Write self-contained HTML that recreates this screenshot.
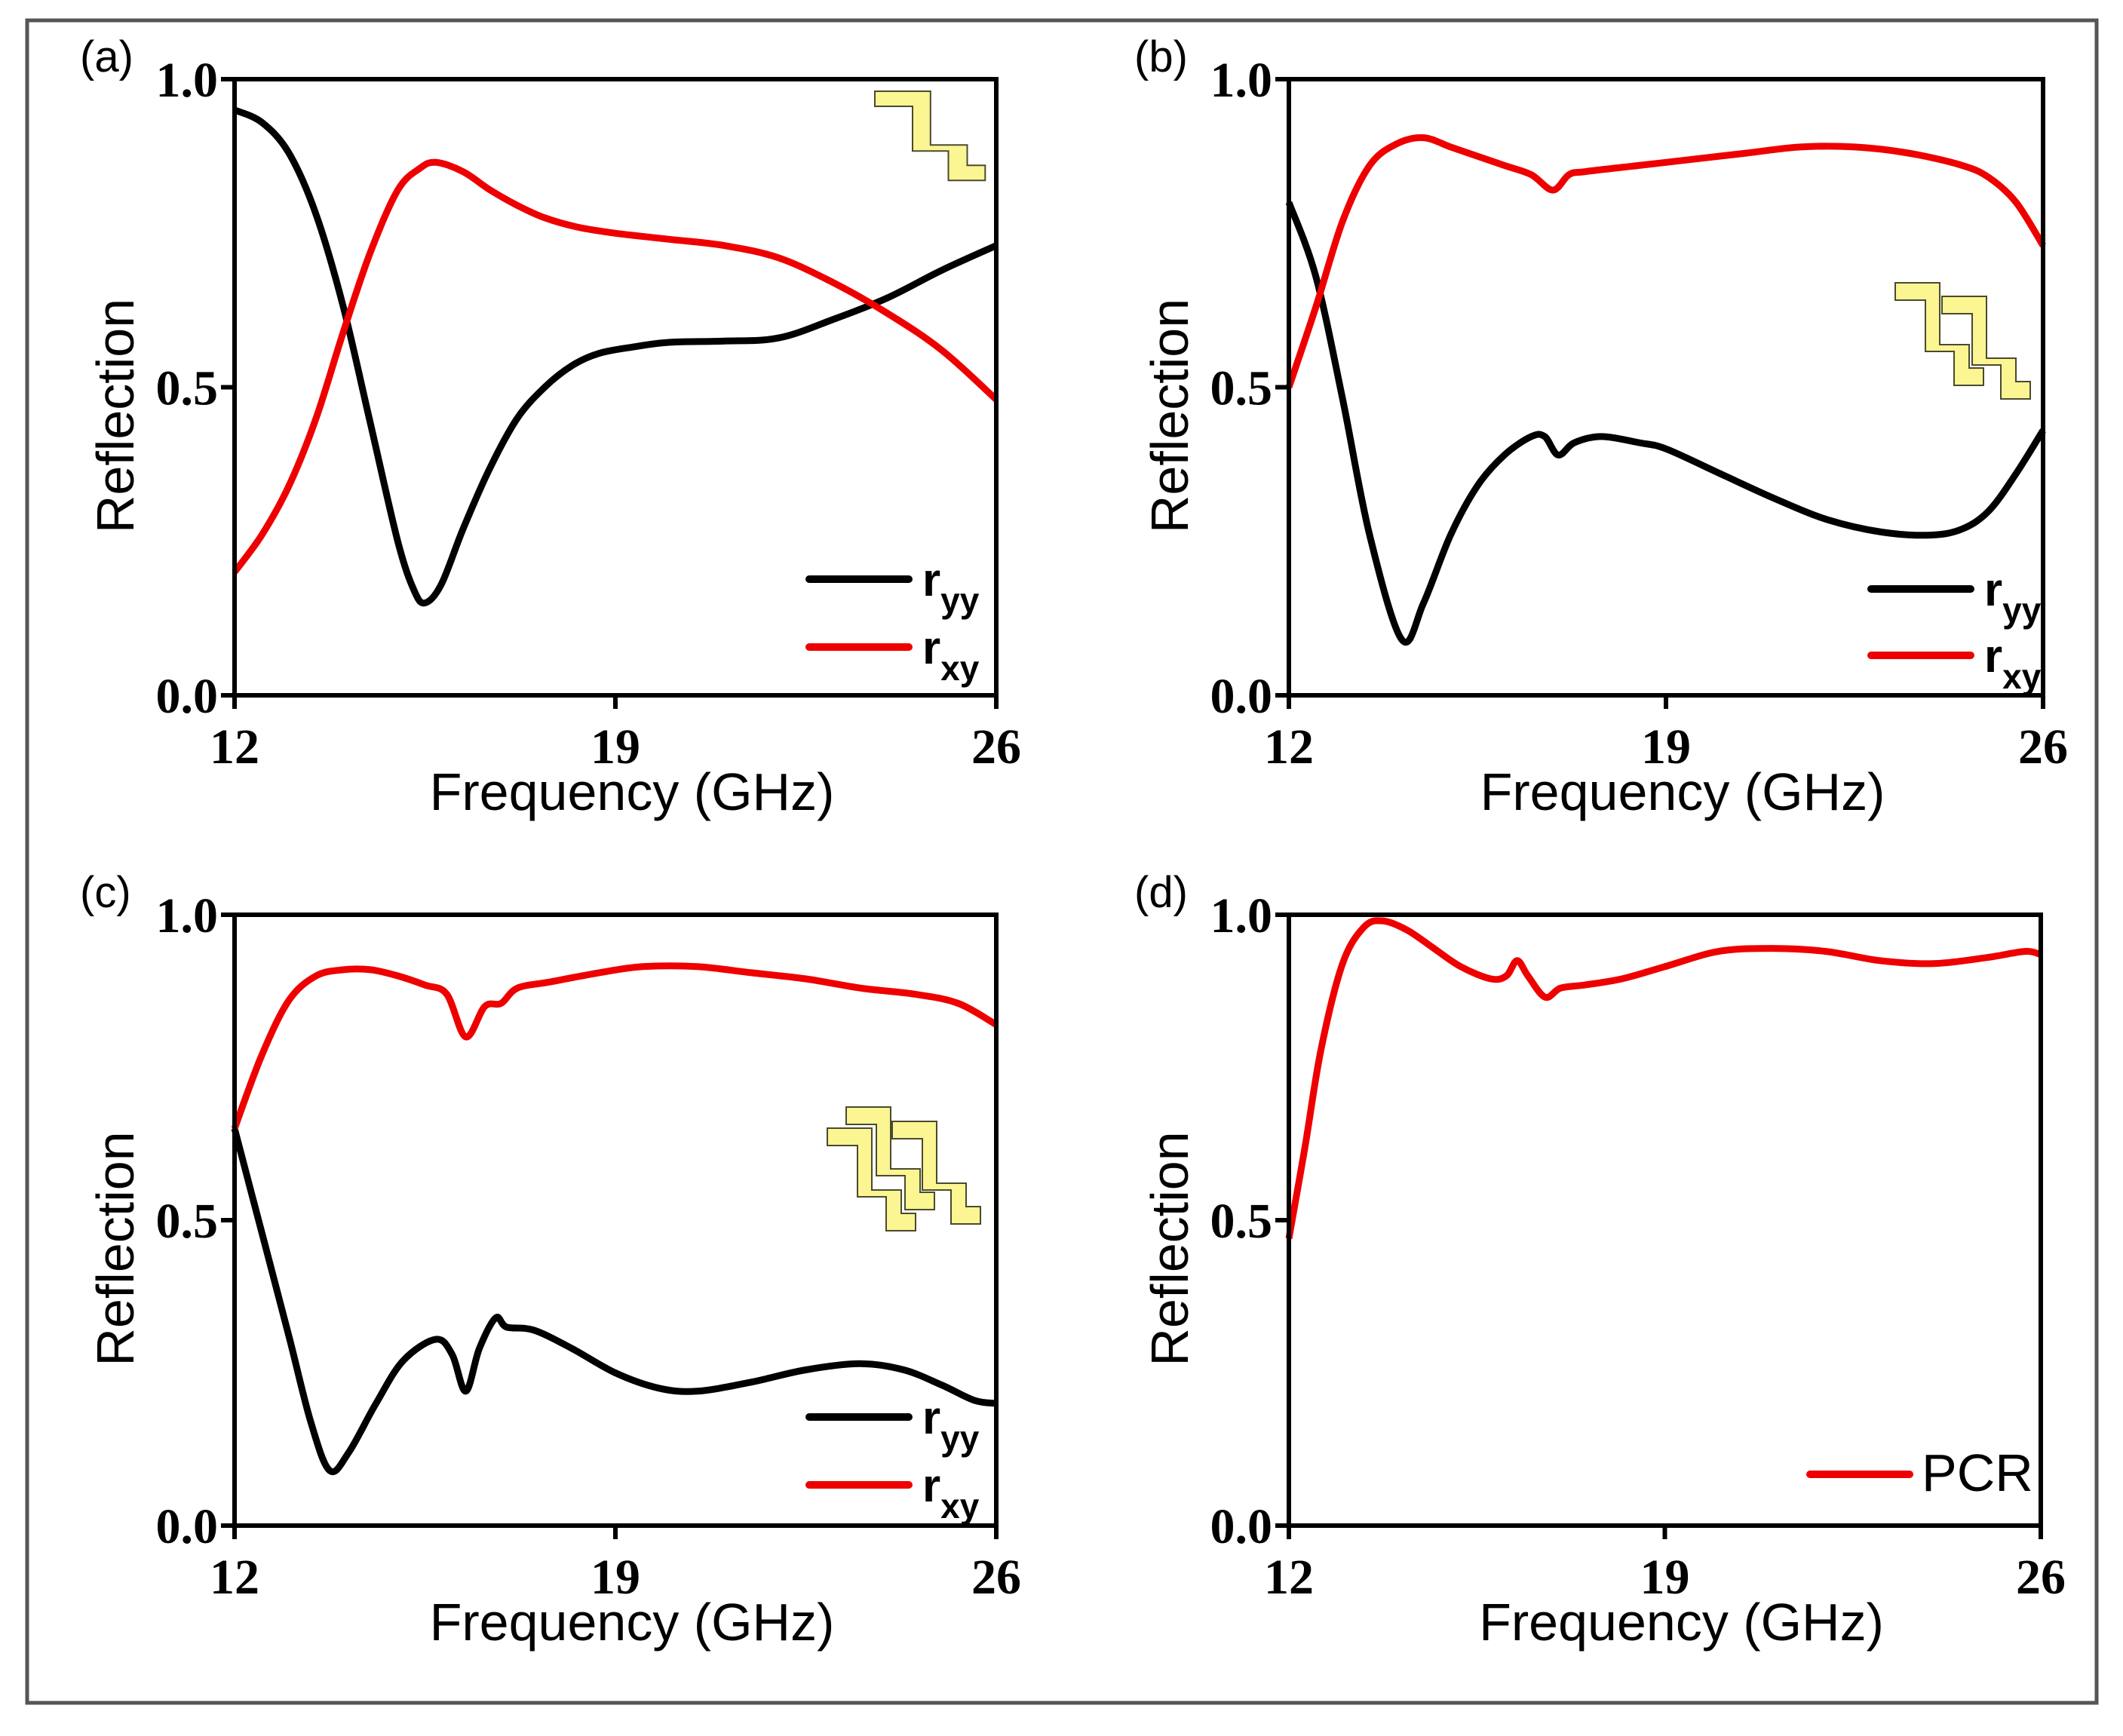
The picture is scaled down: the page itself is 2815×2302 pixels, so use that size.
<!DOCTYPE html>
<html><head><meta charset="utf-8"><style>
html,body{margin:0;padding:0;background:#fff}
svg{display:block}
.tick{font-family:"Liberation Serif",serif;font-weight:bold;font-size:66px}
.title{font-family:"Liberation Sans",sans-serif;font-size:70px}
.plab{font-family:"Liberation Sans",sans-serif;font-size:58px}
.leg{font-family:"Liberation Sans",sans-serif;font-weight:bold;font-size:62px}
</style></head><body>
<svg id="fig" width="2815" height="2302" viewBox="0 0 2815 2302" xmlns="http://www.w3.org/2000/svg">
<rect x="36" y="27" width="2744" height="2231" fill="none" stroke="#555" stroke-width="5"/>
</svg>
<script>
// ---- data ----
const xTicks = [12, 19, 26];
const yTicks = [0.0, 0.5, 1.0];
const yTickLabels = ["0.0", "0.5", "1.0"];
const panelLabels = ["(a)", "(b)", "(c)", "(d)"];

const aRyyF = [12,12.5,13,13.5,14,14.5,15,15.3,15.5,15.8,16.2,16.7,17.2,17.7,18.2,18.7,19.3,20,21,22,23,24,25,26];
const aRyyV = [0.95,0.93,0.88,0.78,0.63,0.44,0.25,0.17,0.15,0.18,0.27,0.37,0.45,0.50,0.535,0.555,0.565,0.573,0.575,0.58,0.61,0.645,0.69,0.73];
const aRxyF = [12,12.5,13,13.5,14,14.5,15,15.4,15.7,16.2,16.7,17.2,17.7,18.3,19,20,21,22,23,24,25,26];
const aRxyV = [0.20,0.26,0.34,0.45,0.59,0.72,0.82,0.855,0.865,0.85,0.82,0.795,0.775,0.76,0.75,0.74,0.73,0.71,0.67,0.62,0.56,0.48];

const bRyyF = [12,12.5,13,13.5,14.1,14.5,15,15.5,16,16.5,16.75,17,17.3,17.8,18.5,19,20,21,22,23,23.9,24.5,25,25.5,26];
const bRyyV = [0.80,0.68,0.48,0.26,0.09,0.15,0.26,0.34,0.39,0.42,0.42,0.39,0.41,0.42,0.41,0.40,0.36,0.32,0.285,0.265,0.26,0.27,0.30,0.36,0.43];
const bRxyF = [12,12.5,13,13.5,14,14.5,15,15.5,16,16.5,16.9,17.2,17.5,18.5,19.5,20.5,21.5,22.5,23.5,24.5,25,25.5,26];
const bRxyV = [0.50,0.63,0.77,0.86,0.895,0.905,0.89,0.875,0.86,0.845,0.82,0.845,0.85,0.86,0.87,0.88,0.89,0.89,0.88,0.86,0.84,0.80,0.73];

const cRyyF = [12,12.5,13,13.4,13.75,14.1,14.6,15.1,15.7,16.0,16.25,16.5,16.8,17.0,17.5,18.2,19,19.8,20.5,21.5,22.5,23.5,24.3,25,25.6,26];
const cRyyV = [0.65,0.48,0.31,0.17,0.09,0.12,0.20,0.27,0.305,0.28,0.22,0.29,0.34,0.325,0.32,0.29,0.25,0.225,0.22,0.235,0.255,0.265,0.255,0.23,0.205,0.20];
const cRxyF = [12,12.5,13,13.5,14,14.5,15,15.5,15.9,16.25,16.6,16.9,17.2,17.8,18.7,19.5,20.5,21.5,22.5,23.5,24.5,25.3,26];
const cRxyV = [0.65,0.77,0.86,0.90,0.91,0.91,0.90,0.885,0.87,0.80,0.85,0.855,0.88,0.89,0.905,0.915,0.915,0.905,0.895,0.88,0.87,0.855,0.82];

const dPcrF = [12,12.3,12.6,13,13.4,13.75,14.2,14.7,15.2,15.76,16.05,16.25,16.45,16.77,17.06,17.5,18.2,19,20,21,22,23,24,25,25.7,26];
const dPcrV = [0.47,0.62,0.78,0.92,0.98,0.99,0.975,0.945,0.915,0.895,0.90,0.925,0.90,0.865,0.88,0.885,0.895,0.915,0.94,0.945,0.94,0.925,0.92,0.93,0.94,0.935];

const svg = document.getElementById('fig');
const NS = "http://www.w3.org/2000/svg";
function mk(tag, attrs, parent){
  const e = document.createElementNS(NS, tag);
  for (const k in attrs) e.setAttribute(k, attrs[k]);
  (parent||svg).appendChild(e);
  return e;
}
function smoothPath(pts){
  let d = "M" + pts[0][0].toFixed(1) + "," + pts[0][1].toFixed(1);
  for (let i=0;i<pts.length-1;i++){
    const p0 = pts[Math.max(0,i-1)], p1 = pts[i], p2 = pts[i+1], p3 = pts[Math.min(pts.length-1,i+2)];
    const c1x = p1[0] + (p2[0]-p0[0])/6, c1y = p1[1] + (p2[1]-p0[1])/6;
    const c2x = p2[0] - (p3[0]-p1[0])/6, c2y = p2[1] - (p3[1]-p1[1])/6;
    d += " C" + c1x.toFixed(1)+","+c1y.toFixed(1)+" "+c2x.toFixed(1)+","+c2y.toFixed(1)+" "+p2[0].toFixed(1)+","+p2[1].toFixed(1);
  }
  return d;
}
const stairPts = [[0,0],[59,0],[59,82],[98,82],[98,113],[117,113],[117,136],[78,136],[78,91],[40,91],[40,23],[0,23]];
function stair(g, x0, y0, sx, sy){
  const p = mk('polygon', {points: stairPts.map(q => (x0+q[0]*sx).toFixed(1)+","+(y0+q[1]*sy).toFixed(1)).join(" "), fill:"#fbf592", stroke:"#4a4a30", "stroke-width":"2"}, g);
  
  
}

const panels = [
  {L:311, R:1321, T:105, B:922, lab:0, series:[[aRyyF,aRyyV,"#000","r-yy"],[aRxyF,aRxyV,"#ee0000","r-xy"]], legX:1073, legY:[768,858], icons:[[1160,121,1.25,0.87]]},
  {L:1709, R:2709, T:105, B:922, lab:1, series:[[bRyyF,bRyyV,"#000","r-yy"],[bRxyF,bRxyV,"#ee0000","r-xy"]], legX:2481, legY:[781,869], icons:[[2513,375,1,1],[2575,393,1,1]]},
  {L:311, R:1321, T:1213, B:2023, lab:2, series:[[cRyyF,cRyyV,"#000","r-yy"],[cRxyF,cRxyV,"#ee0000","r-xy"]], legX:1073, legY:[1879,1969], icons:[[1097,1496,1,1],[1122,1468,1,1],[1183,1487,1,1]]},
  {L:1709, R:2706, T:1213, B:2023, lab:3, series:[[dPcrF,dPcrV,"#ee0000","pcr"]], legX:2400, legY:[1955], icons:[]}
];

panels.forEach((P, pi) => {
  const g = mk('g', {});
  
  
  const xs = f => P.L + (f - 12) / 14 * (P.R - P.L);
  const ys = v => P.B - v * (P.B - P.T);
  P.icons.forEach(ic => stair(g, ic[0], ic[1], ic[2], ic[3]));
  P.series.forEach(s => {
    const pts = s[0].map((f,i) => [xs(f), ys(s[1][i])]);
    const path = mk('path', {d: smoothPath(pts), fill:"none", stroke:s[2], "stroke-width":"9", "stroke-linejoin":"round"}, g);
    
    
  });
  const fr = mk('rect', {x:P.L, y:P.T, width:P.R-P.L, height:P.B-P.T, fill:"none", stroke:"#000", "stroke-width":"6"}, g);
  
  
  xTicks.forEach(t => {
    const x = xs(t);
    const tk = mk('line', {x1:x, y1:P.B, x2:x, y2:P.B+18, stroke:"#000", "stroke-width":"6"}, g);
    
    
    const tl = mk('text', {x:x, y:P.B+90, "text-anchor":"middle", class:"tick"}, g);
    tl.textContent = String(t);
    
    
  });
  yTicks.forEach((t, i) => {
    const y = ys(t);
    const tk = mk('line', {x1:P.L-18, y1:y, x2:P.L, y2:y, stroke:"#000", "stroke-width":"6"}, g);
    
    
    const tl = mk('text', {x:P.L-22, y:y+23, "text-anchor":"end", class:"tick"}, g);
    tl.textContent = yTickLabels[i];
    
    
  });
  const xt = mk('text', {x:(P.L+P.R)/2+22, y:P.B+152, "text-anchor":"middle", class:"title"}, g);
  xt.textContent = "Frequency (GHz)";
  
  
  const yt = mk('text', {x:0, y:0, "text-anchor":"middle", class:"title", transform:"translate(" + (P.L-134) + "," + ((P.T+P.B)/2+38) + ") rotate(-90)"}, g);
  yt.textContent = "Reflection";
  
  
  const pl = mk('text', {x:P.L-205, y:P.T-10, class:"plab"}, g);
  pl.textContent = panelLabels[P.lab];
  
  
  P.series.forEach((s, i) => {
    const y = P.legY[i];
    const ln = mk('line', {x1:P.legX, y1:y, x2:P.legX+132, y2:y, stroke:s[2], "stroke-width":"10", "stroke-linecap":"round"}, g);
    
    
    let tx;
    if (s[3] === "pcr") {
      tx = mk('text', {x:P.legX+148, y:y+22, class:"title", "font-size":"60"}, g);
      tx.textContent = "PCR";
    } else {
      tx = mk('text', {x:P.legX+150, y:y+22, class:"leg"}, g);
      tx.textContent = "r";
      const sub = mk('tspan', {dy:"22", "font-size":"46"}, tx);
      sub.textContent = s[3] === "r-yy" ? "yy" : "xy";
    }
    
    
  });
});
</script>
</body></html>
